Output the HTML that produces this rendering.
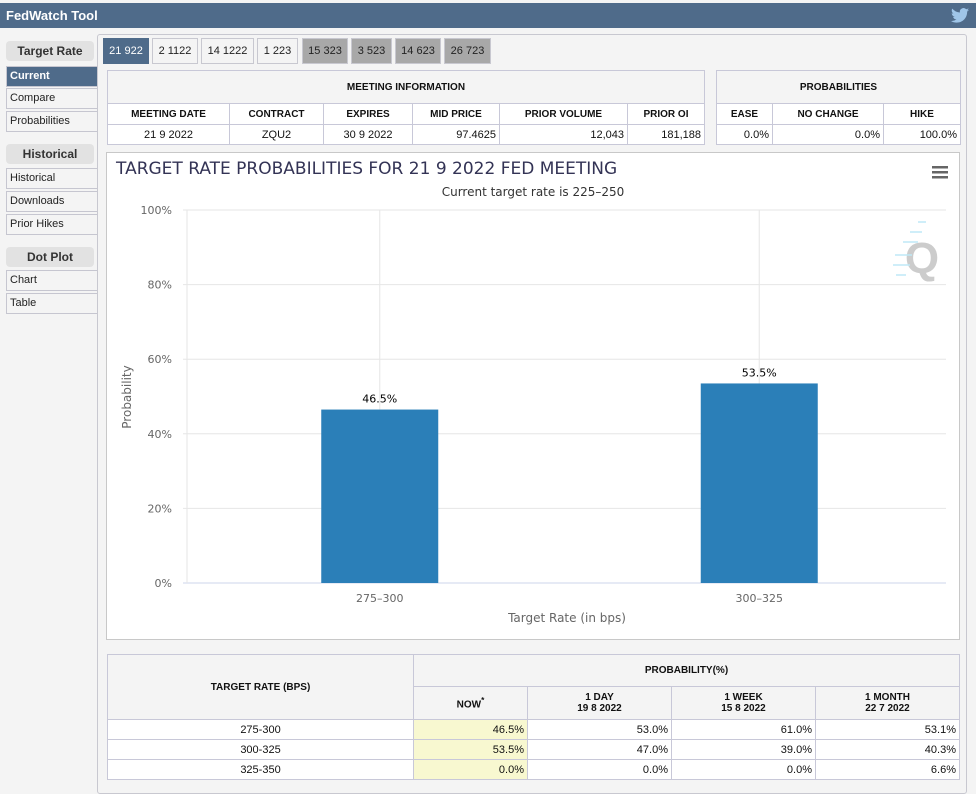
<!DOCTYPE html>
<html><head><meta charset="utf-8">
<style>
*{box-sizing:border-box;margin:0;padding:0}
body{width:976px;height:781px;overflow:hidden;background:#f4f4f4;font-family:"Liberation Sans",Arial,sans-serif;position:relative;font-size:11px;color:#111}
.abs{position:absolute}
#hdr{left:0;top:3px;width:976px;height:25px;background:#4f6b8a;color:#fff;font-weight:bold;font-size:13px;padding:5px 6px}
.sbh{position:absolute;left:6px;width:88px;height:20px;background:#e2e2e2;border-radius:4px;text-align:center;font-weight:bold;font-size:12px;color:#333;line-height:20px}
.sbi{position:absolute;left:6px;width:91px;height:21px;border:1px solid #c6c6d0;border-right:none;background:#f4f4f4;font-size:11px;padding-left:3px;line-height:19px;color:#222}
.tab{position:absolute;top:38px;height:26px;border:1px solid #c8c8d0;background:#f4f4f4;text-align:center;line-height:24px;font-size:11px;color:#222}
table{border-collapse:collapse;position:absolute;background:#fff}
td{border:1px solid #c8c8d8;font-size:10px;padding:0 3px}
.h{font-weight:bold;text-align:center}
.r{text-align:right;font-size:11px}
.c{text-align:center;font-size:11px}
.y{background:#f8f8d0}
</style></head><body>
<div id="hdr" class="abs">FedWatch Tool
<svg class="abs" style="left:951px;top:5px" width="18" height="15" viewBox="0 0 24 20"><path d="M24 2.4c-.9.4-1.8.7-2.8.8 1-.6 1.800-1.6 2.2-2.7-1 .6-2 1-3.1 1.2A4.9 4.9 0 0 0 11.9 6 14 14 0 0 1 1.7.9a4.9 4.9 0 0 0 1.5 6.6c-.8 0-1.6-.2-2.2-.6 0 2.4 1.7 4.4 3.9 4.8-.7.2-1.5.2-2.2.1.6 2 2.4 3.4 4.6 3.4A9.9 9.9 0 0 1 0 17.3 14 14 0 0 0 7.5 19.5c9.1 0 14-7.500 14-14v-.6c1-.7 1.8-1.6 2.5-2.5z" fill="#9fc5e8"/></svg></div>

<div class="sbh" style="top:41px">Target Rate</div>
<div class="sbi" style="top:66px;background:#4f6b8a;color:#fff;font-weight:bold">Current</div>
<div class="sbi" style="top:88px">Compare</div>
<div class="sbi" style="top:111px">Probabilities</div>
<div class="sbh" style="top:144px">Historical</div>
<div class="sbi" style="top:168px">Historical</div>
<div class="sbi" style="top:191px">Downloads</div>
<div class="sbi" style="top:214px">Prior Hikes</div>
<div class="sbh" style="top:247px">Dot Plot</div>
<div class="sbi" style="top:270px">Chart</div>
<div class="sbi" style="top:293px">Table</div>

<div class="abs" style="left:97px;top:34px;width:870px;height:760px;border:1px solid #c8c8d0;border-radius:3px;background:#f4f4f4"></div>
<div class="tab" style="left:103px;width:46px;background:#4f6b8a;color:#fff;border-color:#4f6b8a">21 922</div>
<div class="tab" style="left:152px;width:46px">2 1122</div>
<div class="tab" style="left:201px;width:53px">14 1222</div>
<div class="tab" style="left:257px;width:41px">1 223</div>
<div class="tab" style="left:302px;width:46px;background:#a8a8a8">15 323</div>
<div class="tab" style="left:351px;width:41px;background:#a8a8a8">3 523</div>
<div class="tab" style="left:395px;width:46px;background:#a8a8a8">14 623</div>
<div class="tab" style="left:444px;width:47px;background:#a8a8a8">26 723</div>

<table style="left:107px;top:70px;width:598px">
<tr style="height:33px;background:#f4f4f4"><td colspan="6" class="h">MEETING INFORMATION</td></tr>
<tr style="height:21px"><td class="h" style="width:122px">MEETING DATE</td><td class="h" style="width:94px">CONTRACT</td><td class="h" style="width:89px">EXPIRES</td><td class="h" style="width:87px">MID PRICE</td><td class="h" style="width:128px">PRIOR VOLUME</td><td class="h">PRIOR OI</td></tr>
<tr style="height:20px"><td class="c">21 9 2022</td><td class="c">ZQU2</td><td class="c">30 9 2022</td><td class="r">97.4625</td><td class="r">12,043</td><td class="r">181,188</td></tr>
</table>
<table style="left:716px;top:70px;width:245px">
<tr style="height:33px;background:#f4f4f4"><td colspan="3" class="h">PROBABILITIES</td></tr>
<tr style="height:21px"><td class="h" style="width:56px">EASE</td><td class="h" style="width:111px">NO CHANGE</td><td class="h">HIKE</td></tr>
<tr style="height:20px"><td class="r">0.0%</td><td class="r">0.0%</td><td class="r">100.0%</td></tr>
</table>

<div class="abs" style="left:106px;top:152px;width:854px;height:488px;background:#fff;border:1px solid #c8c8c8"></div>
<svg class="abs" style="left:0;top:0" width="976" height="781" id="chart">
<text x="116" y="174" font-size="17" fill="#333355" font-family="DejaVu Sans,sans-serif">TARGET RATE PROBABILITIES FOR 21 9 2022 FED MEETING</text>
<text x="533" y="196" font-size="12" fill="#333" text-anchor="middle" font-family="DejaVu Sans,sans-serif">Current target rate is 225–250</text>
<g fill="#666"><rect x="932" y="166" width="16" height="2.5"/><rect x="932" y="171" width="16" height="2.5"/><rect x="932" y="176" width="16" height="2.5"/></g>
<g><text x="922" y="273" font-size="44" font-weight="bold" fill="#ccc" text-anchor="middle" font-family="Liberation Sans,sans-serif">Q</text>
<g stroke="#bfe9f7" stroke-width="1.5"><line x1="918" y1="222" x2="926" y2="222"/><line x1="910" y1="232" x2="922" y2="232"/><line x1="903" y1="242" x2="918" y2="242"/><line x1="895" y1="255" x2="912" y2="255"/><line x1="893" y1="265" x2="910" y2="265"/><line x1="896" y1="275" x2="906" y2="275"/></g></g>
<g id="grid"></g><g id="bars"></g>
<text transform="translate(131,397) rotate(-90)" font-size="12" fill="#666" text-anchor="middle" font-family="DejaVu Sans,sans-serif">Probability</text>
<text x="567" y="622" font-size="12" fill="#666" text-anchor="middle" font-family="DejaVu Sans,sans-serif">Target Rate (in bps)</text>
</svg>

<table style="left:107px;top:654px;width:853px">
<tr style="height:32px;background:#f4f4f4"><td rowspan="2" class="h" style="width:306px">TARGET RATE (BPS)</td><td colspan="4" class="h">PROBABILITY(%)</td></tr>
<tr style="height:33px;background:#f4f4f4"><td class="h" style="width:114px">NOW<sup>*</sup></td><td class="h" style="width:144px">1 DAY<br>19 8 2022</td><td class="h" style="width:144px">1 WEEK<br>15 8 2022</td><td class="h">1 MONTH<br>22 7 2022</td></tr>
<tr style="height:20px"><td class="c">275-300</td><td class="r y">46.5%</td><td class="r">53.0%</td><td class="r">61.0%</td><td class="r">53.1%</td></tr>
<tr style="height:20px"><td class="c">300-325</td><td class="r y">53.5%</td><td class="r">47.0%</td><td class="r">39.0%</td><td class="r">40.3%</td></tr>
<tr style="height:20px"><td class="c">325-350</td><td class="r y">0.0%</td><td class="r">0.0%</td><td class="r">0.0%</td><td class="r">6.6%</td></tr>
</table>

<script>
const categories=["275-300","300-325"];
const values=[46.5,53.5];
const yTicks=[0,20,40,60,80,100];
const NS="http://www.w3.org/2000/svg";
const X0=187,X1=946,Y0=583,Y1=210;
const y=v=>Y0-(v/100)*(Y0-Y1);
const band=(X1-X0)/categories.length;
const xc=i=>X0+3+band*(i+0.5);
function mk(t,a,p){const e=document.createElementNS(NS,t);for(const k in a)e.setAttribute(k,a[k]);p.appendChild(e);return e;}
const grid=document.getElementById('grid'),bars=document.getElementById('bars');
yTicks.forEach(t=>{
 const l=mk('line',{x1:183,x2:X1,y1:y(t),y2:y(t),stroke:t===0?'#ccd6eb':'#e6e6e6'},grid);
 
 
 const tx=mk('text',{x:172,y:y(t)+4,'font-size':11,fill:'#666','text-anchor':'end','font-family':'DejaVu Sans,sans-serif'},grid);
 tx.textContent=t+'%';
 
 
});
const vl=mk('line',{x1:X0,x2:X0,y1:Y1,y2:Y0,stroke:'#e6e6e6'},grid);


categories.forEach((c,i)=>{
 const g=mk('line',{x1:xc(i),x2:xc(i),y1:Y1,y2:Y0,stroke:'#e6e6e6'},grid);
 
 
 const w=117;
 const r=mk('rect',{x:xc(i)-w/2,y:y(values[i]),width:w,height:Y0-y(values[i]),fill:'#2b7fb8'},bars);
 
 
 const lb=mk('text',{x:xc(i),y:y(values[i])-7,'font-size':11,fill:'#000','text-anchor':'middle','font-family':'DejaVu Sans,sans-serif'},bars);
 lb.textContent=values[i].toFixed(1)+'%';
 
 
 const xl=mk('text',{x:xc(i),y:Y0+19,'font-size':11,fill:'#666','text-anchor':'middle','font-family':'DejaVu Sans,sans-serif'},bars);
 xl.textContent=c.replace('-','–');
 
 
});
</script>
</body></html>
